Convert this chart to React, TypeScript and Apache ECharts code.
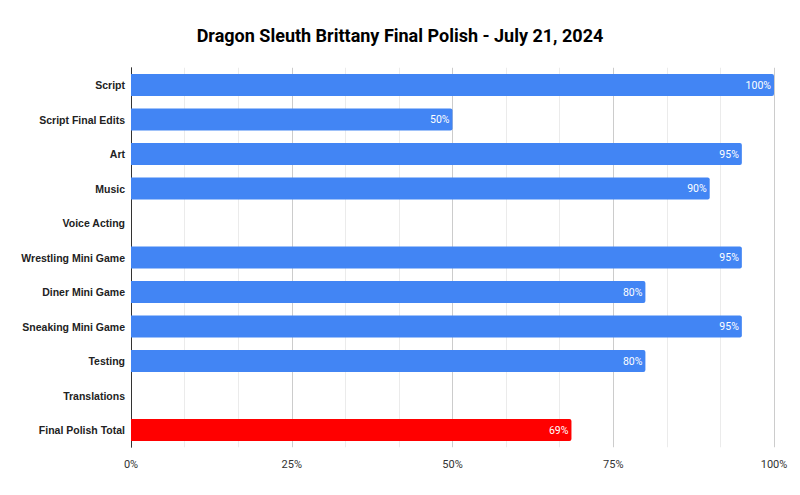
import React, { useEffect, useRef } from "react";
import * as echarts from "echarts";

const categories = [
  "Script",
  "Script Final Edits",
  "Art",
  "Music",
  "Voice Acting",
  "Wrestling Mini Game",
  "Diner Mini Game",
  "Sneaking Mini Game",
  "Testing",
  "Translations",
  "Final Polish Total",
];
const values = [100, 50, 95, 90, 0, 95, 80, 95, 80, 0, 68.5];
const barColors = ["#4285F4", "#4285F4", "#4285F4", "#4285F4", "#4285F4", "#4285F4", "#4285F4", "#4285F4", "#4285F4", "#4285F4", "#FF0000"];
const titleText = "Dragon Sleuth Brittany Final Polish - July 21, 2024";

export default function App() {
  const ref = useRef<HTMLDivElement>(null);
  useEffect(() => {
    if (!ref.current) return;
    const chart = echarts.init(ref.current, null, { renderer: "svg" });
    chart.setOption({
      animation: false,
      backgroundColor: "#ffffff",
      title: {
        text: titleText,
        left: "center",
        top: 13,
        textStyle: { fontFamily: "Roboto", fontWeight: "bold", fontSize: 18, color: "#000000" },
      },
      grid: { left: 123, right: 18, top: 59.75, bottom: 39.75, containLabel: false },
      xAxis: {
        type: "value",
        min: 0,
        max: 100,
        interval: 25,
        axisLine: { show: false },
        axisTick: { show: false },
        axisLabel: {
          formatter: (v: number) => v + "%",
          fontFamily: "Roboto",
          fontSize: 11,
          color: "#333333",
          margin: 12,
        },
        splitLine: { show: true, lineStyle: { color: "#cccccc", width: 1 } },
        minorTick: { show: false, splitNumber: 3 },
        minorSplitLine: { show: true, lineStyle: { color: "#ebebeb", width: 1 } },
      },
      yAxis: {
        type: "category",
        data: categories,
        inverse: true,
        axisLine: { show: true, lineStyle: { color: "#333333", width: 1 } },
        axisTick: { show: false },
        axisLabel: {
          fontFamily: "Liberation Sans, Arial",
          fontWeight: "bold",
          fontSize: 10.5,
          color: "#222222",
          margin: 6,
        },
      },
      series: [
        {
          type: "bar",
          data: values.map((v, i) => ({
            value: v,
            itemStyle: { color: barColors[i], borderRadius: [0, 2, 2, 0] },
            label: { show: v > 0 },
          })),
          barWidth: 22,
          label: {
            show: true,
            position: "insideRight",
            distance: 3,
            color: "#ffffff",
            fontFamily: "Roboto",
            fontSize: 10.5,
            formatter: (p: any) => Math.round(p.value) + "%",
          },
        },
      ],
    });
    return () => chart.dispose();
  }, []);
  return <div ref={ref} style={{ width: 784, height: 479 }} />;
}
